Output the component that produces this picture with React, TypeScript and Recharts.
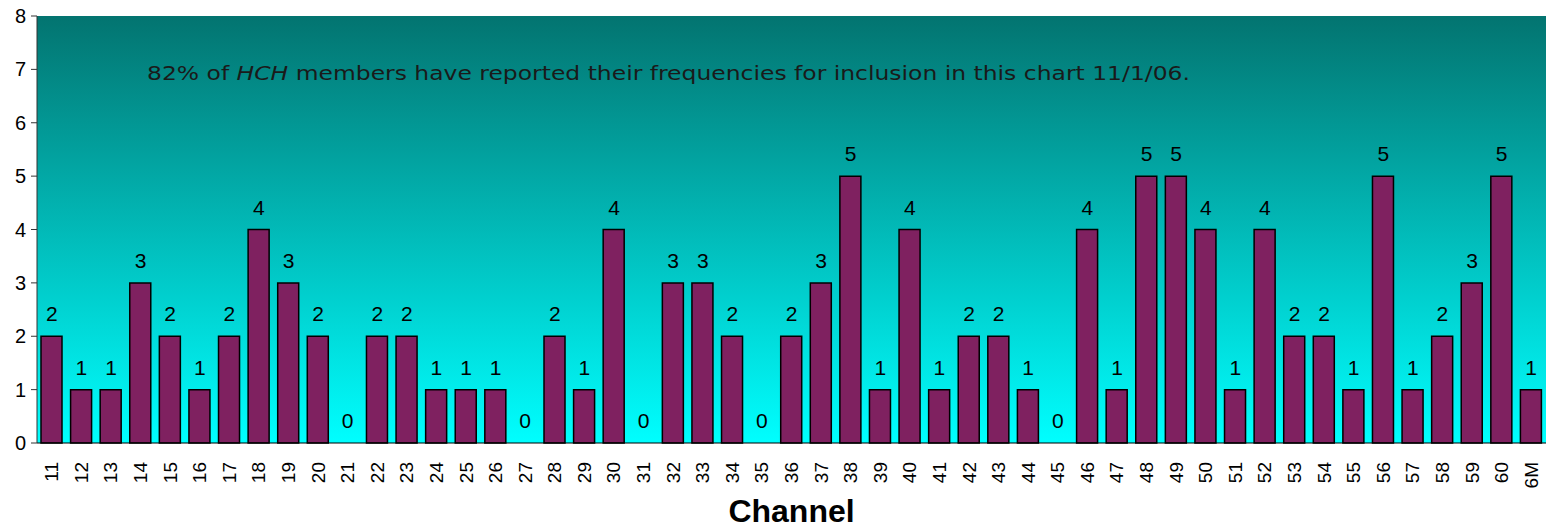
import React from 'react';
import { ComposedChart, Bar, Line, XAxis, YAxis, ReferenceArea, LabelList } from 'recharts';

const channels = [
  '11', '12', '13', '14', '15', '16', '17', '18', '19', '20',
  '21', '22', '23', '24', '25', '26', '27', '28', '29', '30',
  '31', '32', '33', '34', '35', '36', '37', '38', '39', '40',
  '41', '42', '43', '44', '45', '46', '47', '48', '49', '50',
  '51', '52', '53', '54', '55', '56', '57', '58', '59', '60', '6M',
];
const counts = [
  2, 1, 1, 3, 2, 1, 2, 4, 3, 2,
  0, 2, 2, 1, 1, 1, 0, 2, 1, 4,
  0, 3, 3, 2, 0, 2, 3, 5, 1, 4,
  1, 2, 2, 1, 0, 4, 1, 5, 5, 4,
  1, 4, 2, 2, 1, 5, 1, 2, 3, 5, 1,
];
const yTicks = [0, 1, 2, 3, 4, 5, 6, 7, 8];

const data = channels.map((name, i) => ({ name, value: counts[i] }));

const FONT = 'Liberation Sans, Arial, sans-serif';

const XTick = ({ x, y, payload }: any) => (
  <text
    x={x}
    y={y + 11}
    transform={`rotate(-90, ${x}, ${y + 11})`}
    textAnchor="end"
    dominantBaseline="central"
    fontSize={19}
    fontFamily={FONT}
    fill="#000"
  >
    {payload.value}
  </text>
);

const ValueLabel = ({ x, y, value }: any) => (
  <text x={x} y={y - 15} textAnchor="middle" fontSize={21} fontFamily={FONT} fill="#000">
    {value}
  </text>
);

const AxisTitle = ({ viewBox }: any) => (
  <text
    x={viewBox.x + viewBox.width / 2}
    y={viewBox.y + viewBox.height - 7}
    textAnchor="middle"
    fontSize={32}
    fontWeight="bold"
    fontFamily={FONT}
    fill="#000"
  >
    Channel
  </text>
);

export default function App() {
  return (
    <div style={{ position: 'absolute', left: 0, top: 0, width: 1550, height: 529, background: '#fff' }}>
      <ComposedChart
        width={1550}
        height={529}
        data={data}
        margin={{ top: 16, right: 4, left: 0, bottom: 0 }}
        barSize={21}
      >
        <defs>
          <linearGradient id="bg" x1="0" y1="0" x2="0" y2="1">
            <stop offset="0%" stopColor="#037470" />
            <stop offset="100%" stopColor="#00FFFF" />
          </linearGradient>
        </defs>
        <ReferenceArea y1={0} y2={8} fill="url(#bg)" fillOpacity={1} stroke="none" />
        <XAxis
          dataKey="name"
          interval={0}
          height={86}
          tick={<XTick />}
          tickLine={false}
          axisLine={{ stroke: '#000', strokeWidth: 1 }}
          label={<AxisTitle />}
        />
        <YAxis
          width={37}
          domain={[0, 8]}
          ticks={yTicks}
          interval={0}
          tickSize={6}
          tickLine={{ stroke: '#333' }}
          axisLine={{ stroke: '#333' }}
          tick={{ fontSize: 20, fill: '#000', fontFamily: FONT, dx: -3 }}
        />
        <Bar dataKey="value" fill="#7F2160" stroke="#000" strokeWidth={1.5} isAnimationActive={false} />
        <Line
          dataKey="value"
          stroke="none"
          dot={false}
          activeDot={false}
          isAnimationActive={false}
        >
          <LabelList dataKey="value" content={<ValueLabel />} />
        </Line>
      </ComposedChart>
      <svg
        width={1550}
        height={529}
        style={{ position: 'absolute', left: 0, top: 0, pointerEvents: 'none' }}
      >
        <text
          x={147}
          y={80}
          fontSize={20}
          fontFamily="DejaVu Sans, sans-serif"
          fill="#1a1a1a"
          textLength={1043}
          lengthAdjust="spacingAndGlyphs"
        >
          82% of <tspan fontStyle="italic">HCH</tspan> members have reported their frequencies for inclusion in this chart 11/1/06.
        </text>
      </svg>
    </div>
  );
}
